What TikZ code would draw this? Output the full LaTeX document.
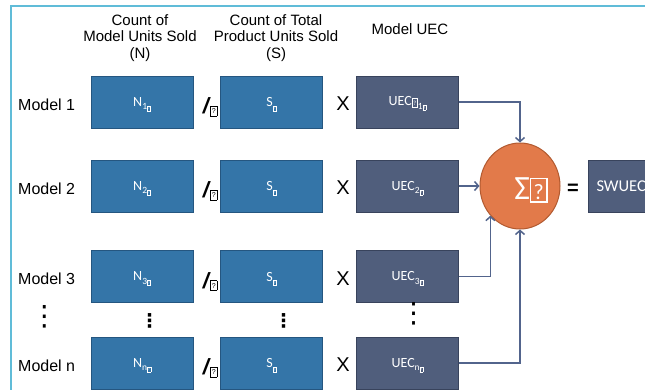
\documentclass[tikz,border=0pt]{standalone}
\usepackage{fontspec}
\usepackage{graphicx}
\setmainfont{Liberation Sans}
\newfontfamily\calfont{Carlito}
\newfontfamily\djv{DejaVu Sans}
\usetikzlibrary{shapes.geometric,arrows.meta}

\definecolor{nbox}{RGB}{52,117,168}
\definecolor{nboxd}{RGB}{37,86,128}
\definecolor{ubox}{RGB}{80,94,124}
\definecolor{uboxd}{RGB}{56,67,92}
\definecolor{orng}{RGB}{226,122,74}
\definecolor{orngd}{RGB}{178,90,48}
\definecolor{connc}{RGB}{82,100,140}
\definecolor{framec}{RGB}{96,188,216}

\newcommand{\tofubase}{{\setlength{\fboxsep}{0.6pt}\setlength{\fboxrule}{0.5pt}\fbox{\rule[-1pt]{0pt}{8pt}\makebox[4.5pt]{\fontsize{7}{7}\selectfont ?}}}}
\newcommand{\tofu}[1]{\scalebox{#1}{\tofubase}}
\newcommand{\bigtofu}{{\setlength{\fboxsep}{1pt}\setlength{\fboxrule}{1.3pt}\fbox{\rule[-1pt]{0pt}{20pt}\makebox[13pt]{\fontsize{22}{22}\selectfont ?}}}}
\newcommand{\sbs}[1]{\raisebox{-3.5pt}[0pt][0pt]{\fontsize{9.5}{9.5}\selectfont #1}}

\tikzset{
  nb/.style={draw=nboxd, fill=nbox, line width=1pt, minimum width=102pt, minimum height=52pt,
             inner sep=0pt, text=white, font=\calfont\fontsize{14}{14}\selectfont},
  ub/.style={nb, draw=uboxd, fill=ubox},
  lab/.style={font=\fontsize{16}{16}\selectfont, anchor=west, inner sep=0pt},
  hdr/.style={align=center, font=\fontsize{15}{16.5}\selectfont, inner sep=0pt},
  opx/.style={font=\fontsize{20}{20}\selectfont, inner sep=0pt},
  opd/.style={font=\fontsize{20}{20}\selectfont\bfseries, inner sep=0pt},
  dtsa/.style={font=\djv\fontsize{28}{28}\selectfont, inner sep=0pt},
  dtsb/.style={font=\djv\fontsize{19}{19}\selectfont\bfseries, inner sep=0pt},
  arr/.style={draw=connc, line width=1.5pt, -{Straight Barb[length=4pt,width=9pt]}},
  sumnode/.style={ellipse, draw=orngd, fill=orng, line width=1pt, minimum width=80pt, minimum height=86pt, inner sep=0pt}
}

\begin{document}
\begin{tikzpicture}[x=1pt,y=-1pt]
\useasboundingbox (0,0) rectangle (645,389);
\clip (0,0) rectangle (645,389);
\fill[white] (0,0) rectangle (645,389);
\draw[framec, line width=2pt] (11,392) -- (11,6) -- (648,6);

% headers
\node[hdr] (h1) at (140,38) {Count of\\Model Units Sold\\(N)};
\node[hdr] (h2) at (276,38) {Count of Total\\Product Units Sold\\(S)};
\node[hdr] (h3) at (410,29) {Model UEC};

% row labels
\node[lab] (m1) at (18,105) {Model 1};
\node[lab] (m2) at (18,189) {Model 2};
\node[lab] (m3) at (18,279) {Model 3};
\node[lab] (mn) at (18,366) {Model n};

% boxes
\node[nb] (n1) at (142,102) {N\sbs{1\tofu{0.55}}};
\node[nb] (s1) at (271.5,102) {S\sbs{\tofu{0.55}}};
\node[ub] (u1) at (407.5,102) {UEC\tofu{0.9}\sbs{1\tofu{0.55}}};

\node[nb] (n2) at (142,186) {N\sbs{2\tofu{0.55}}};
\node[nb] (s2) at (271.5,186) {S\sbs{\tofu{0.55}}};
\node[ub] (u2) at (407.5,186) {UEC\sbs{2\tofu{0.55}}};

\node[nb] (n3) at (142,276.5) {N\sbs{3\tofu{0.55}}};
\node[nb] (s3) at (271.5,276.5) {S\sbs{\tofu{0.55}}};
\node[ub] (u3) at (407.5,276.5) {UEC\sbs{3\tofu{0.55}}};

\node[nb] (nn) at (142,363) {N\sbs{n\tofu{0.55}}};
\node[nb] (sn) at (271.5,363) {S\sbs{\tofu{0.55}}};
\node[ub] (un) at (407.5,363) {UEC\sbs{n\tofu{0.55}}};

% operators
\foreach \r/\y in {1/102,2/186,3/276.5,n/363}{
  \node[opd] (sl\r) at (210,\y+5) {{\itshape\fontsize{22}{22}\selectfont /}\hspace{1.5pt}{\mdseries\tofu{1}}};
  \node[opx] (x\r) at (343,\y+2) {X};
}

% dots
\node[dtsa] (d0) at (44.5,317) {⋮};
\node[dtsb] (d1) at (149.5,321) {⋮};
\node[dtsb] (d2) at (283.5,321) {⋮};
\node[dtsa] (d3) at (413.5,314) {⋮};

% sum
\node[sumnode] (sum) at (520,186) {};
\node[text=white, font=\calfont\fontsize{34}{34}\selectfont, inner sep=0pt] (sumlab) at (531,190) {Σ\bigtofu};
\node[opd] (eq) at (573,189) {=};
\node[ub, anchor=west, inner xsep=8pt, text width=87pt, align=left, font=\calfont\fontsize{16.5}{17}\selectfont] (sw) at (588,186) {SWUEC};

% connectors
\draw[arr] (u1.east) -| (sum.north);
\draw[arr] (u2.east) -- (sum.west);
\draw[arr] (u3.east) -| (sum.225);
\draw[arr] (un.east) -| (sum.south);
\end{tikzpicture}
\end{document}
